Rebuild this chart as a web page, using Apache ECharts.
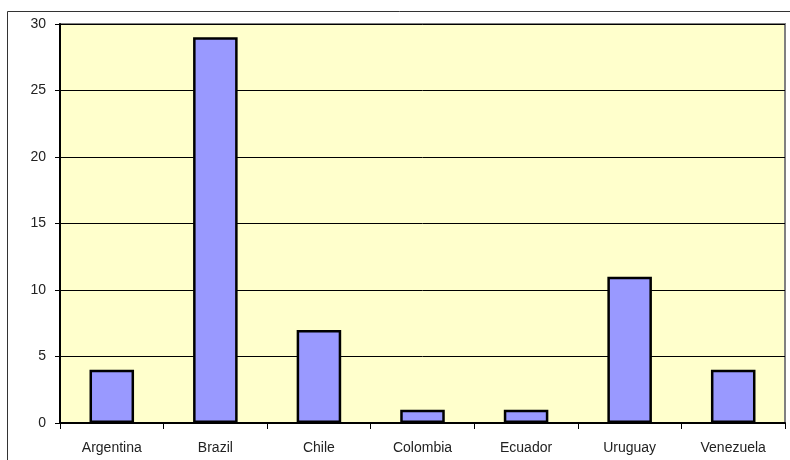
<!DOCTYPE html>
<html><head><meta charset="utf-8">
<script src="https://cdn.jsdelivr.net/npm/echarts@6/dist/echarts.min.js"></script>
<style>html,body{margin:0;padding:0;background:#fff}#c{width:790px;height:460px}</style>
</head><body><div id="c"></div>
<script>
const categories = ['Argentina','Brazil','Chile','Colombia','Ecuador','Uruguay','Venezuela'];
const values = [4, 29, 7, 1, 1, 11, 4];
const yTicks = [0, 5, 10, 15, 20, 25, 30];

const chart = echarts.init(document.getElementById('c'), null, {renderer:'canvas'});
chart.setOption({
  animation: false,
  backgroundColor: '#ffffff',
  graphic: [{
    type: 'rect', silent: true, z: -1,
    shape: {x: 7.5, y: 11.5, width: 800, height: 500},
    style: {fill: 'none', stroke: '#333', lineWidth: 1}
  }],
  grid: {left: 60, right: 5, top: 24, bottom: 37, show: true, backgroundColor: '#FFFFCC', borderColor: '#808080', borderWidth: 2},
  xAxis: {
    type: 'category', data: categories,
    axisLine: {lineStyle: {color: '#000', width: 2}},
    axisTick: {show: true, alignWithLabel: false, length: 6, lineStyle: {color: '#000'}},
    axisLabel: {color: '#222', fontFamily: 'Liberation Sans', fontSize: 14, margin: 18}
  },
  yAxis: {
    type: 'value', min: yTicks[0], max: yTicks[yTicks.length-1], interval: 5,
    axisLine: {show: true, lineStyle: {color: '#000', width: 2}},
    axisTick: {show: true, length: 5, lineStyle: {color: '#000'}},
    axisLabel: {color: '#222', fontFamily: 'Liberation Sans', fontSize: 14, margin: 14},
    splitLine: {show: true, lineStyle: {color: '#000', width: 1}}
  },
  series: [{
    type: 'bar', data: values, barWidth: '43%',
    itemStyle: {color: '#9999FF', borderColor: '#000', borderWidth: 2.5}
  }]
});
</script></body></html>
